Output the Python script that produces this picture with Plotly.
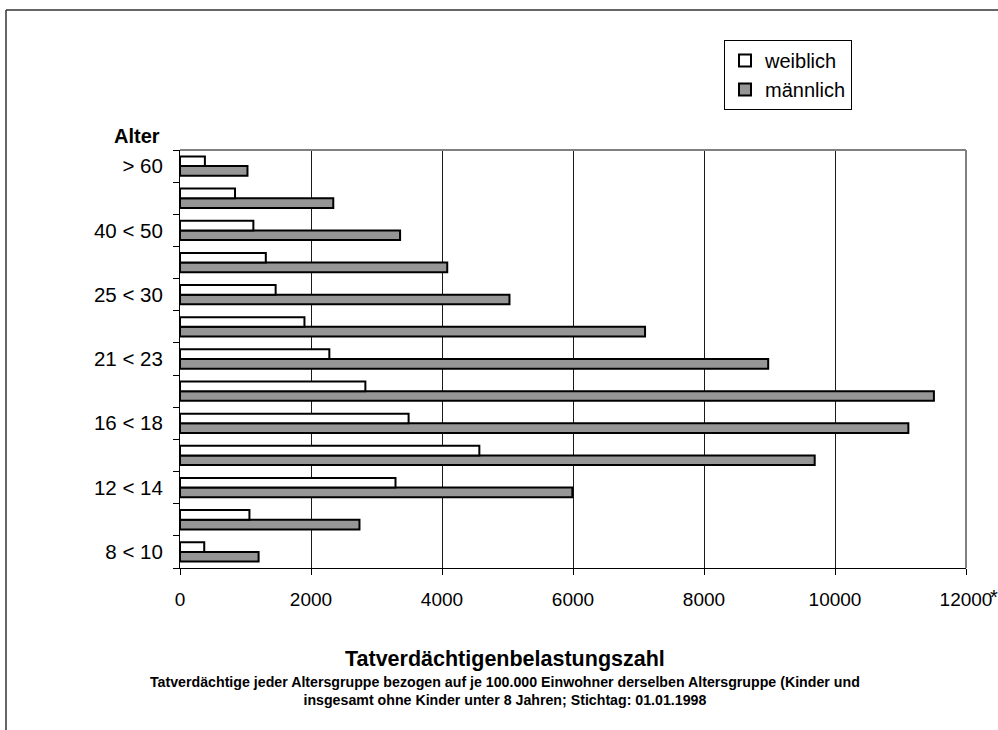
import plotly.graph_objects as go

# Age groups, bottom to top
altersgruppen = ["8 < 10", "10 < 12", "12 < 14", "14 < 16", "16 < 18", "18 < 21",
                 "21 < 23", "23 < 25", "25 < 30", "30 < 40", "40 < 50", "50 < 60", "> 60"]
# Only every other group is labelled on the axis
beschriftung = ["8 < 10", "", "12 < 14", "", "16 < 18", "", "21 < 23", "",
                "25 < 30", "", "40 < 50", "", "> 60"]

weiblich = [370, 1060, 3290, 4570, 3490, 2830, 2280, 1900, 1460, 1310, 1120, 840, 380]
maennlich = [1200, 2740, 5990, 9690, 11120, 11510, 8980, 7100, 5030, 4080, 3360, 2340, 1030]

x_ticks = [0, 2000, 4000, 6000, 8000, 10000, 12000]

FONT = "Arial, Liberation Sans, sans-serif"
W, H = 998, 730
L, R, T, B = 180, 32, 150, 162


def xp(px):
    return (px - L) / (W - L - R)


def yp(py):
    return (H - B - py) / (H - T - B)


fig = go.Figure()
fig.add_trace(go.Bar(
    y=altersgruppen, x=maennlich, orientation="h", name="männlich",
    marker=dict(color="#969696", line=dict(color="#000000", width=2)),
))
fig.add_trace(go.Bar(
    y=altersgruppen, x=weiblich, orientation="h", name="weiblich",
    marker=dict(color="#ffffff", line=dict(color="#000000", width=2)),
))

fig.update_layout(
    width=W, height=H,
    margin=dict(l=L, r=R, t=T, b=B, autoexpand=False),
    paper_bgcolor="#ffffff", plot_bgcolor="#ffffff",
    barmode="group", bargap=0.4, bargroupgap=0,
    font=dict(family=FONT, color="#000000", size=19),
    showlegend=True,
    legend=dict(
        x=xp(724), y=yp(40), xanchor="left", yanchor="top",
        traceorder="reversed", bgcolor="#ffffff",
        bordercolor="#000000", borderwidth=1,
        font=dict(family=FONT, size=20, color="#000000"),
        itemwidth=30, tracegroupgap=0,
    ),
    xaxis=dict(
        range=[0, 12000], tickvals=x_ticks, ticktext=[str(v) for v in x_ticks],
        showgrid=True, gridcolor="#1a1a1a", gridwidth=1,
        showline=True, linecolor="#000000", linewidth=1,
        ticks="outside", ticklen=6, tickcolor="#000000",
        ticklabelstandoff=8, zeroline=False, automargin=False,
        tickfont=dict(family=FONT, size=19),
    ),
    yaxis=dict(
        type="category", categoryorder="array", categoryarray=altersgruppen,
        tickvals=altersgruppen, ticktext=beschriftung,
        showgrid=False, showline=True, linecolor="#000000", linewidth=1,
        ticks="outside", ticklen=6, tickcolor="#000000", tickson="boundaries",
        ticklabelstandoff=12, zeroline=False, automargin=False,
        tickfont=dict(family=FONT, size=20.5),
    ),
    shapes=[
        # grey top and right border of the plot area
        dict(type="line", xref="paper", yref="paper", x0=0, x1=1, y0=1, y1=1,
             line=dict(color="#808080", width=2)),
        dict(type="line", xref="paper", yref="paper", x0=1, x1=1, y0=0, y1=1,
             line=dict(color="#808080", width=2)),
        # outer frame of the chart
        dict(type="line", xref="paper", yref="paper", x0=xp(6), x1=xp(1010),
             y0=yp(10), y1=yp(10), line=dict(color="#333333", width=1.5)),
        dict(type="line", xref="paper", yref="paper", x0=xp(6), x1=xp(6),
             y0=yp(10), y1=yp(740), line=dict(color="#333333", width=1.5)),
    ],
    annotations=[
        dict(text="<b>Alter</b>", xref="paper", yref="paper", x=xp(137), y=yp(136),
             xanchor="center", yanchor="middle", showarrow=False,
             font=dict(family=FONT, size=20)),
        dict(text="*", xref="paper", yref="paper", x=xp(994), y=yp(597),
             xanchor="center", yanchor="middle", showarrow=False,
             font=dict(family=FONT, size=20)),
        dict(text="<b>Tatverdächtigenbelastungszahl</b>", xref="paper", yref="paper",
             x=xp(505), y=yp(659), xanchor="center", yanchor="middle", showarrow=False,
             font=dict(family=FONT, size=21.5)),
        dict(text="<b>Tatverdächtige jeder Altersgruppe bezogen auf je 100.000 Einwohner "
                  "derselben Altersgruppe (Kinder und</b><br><b>insgesamt ohne Kinder unter 8 "
                  "Jahren; Stichtag: 01.01.1998</b>",
             xref="paper", yref="paper", x=xp(505), y=yp(691), xanchor="center",
             yanchor="middle", showarrow=False, align="center",
             font=dict(family=FONT, size=14.2)),
    ],
)

fig.write_html("out.html")
